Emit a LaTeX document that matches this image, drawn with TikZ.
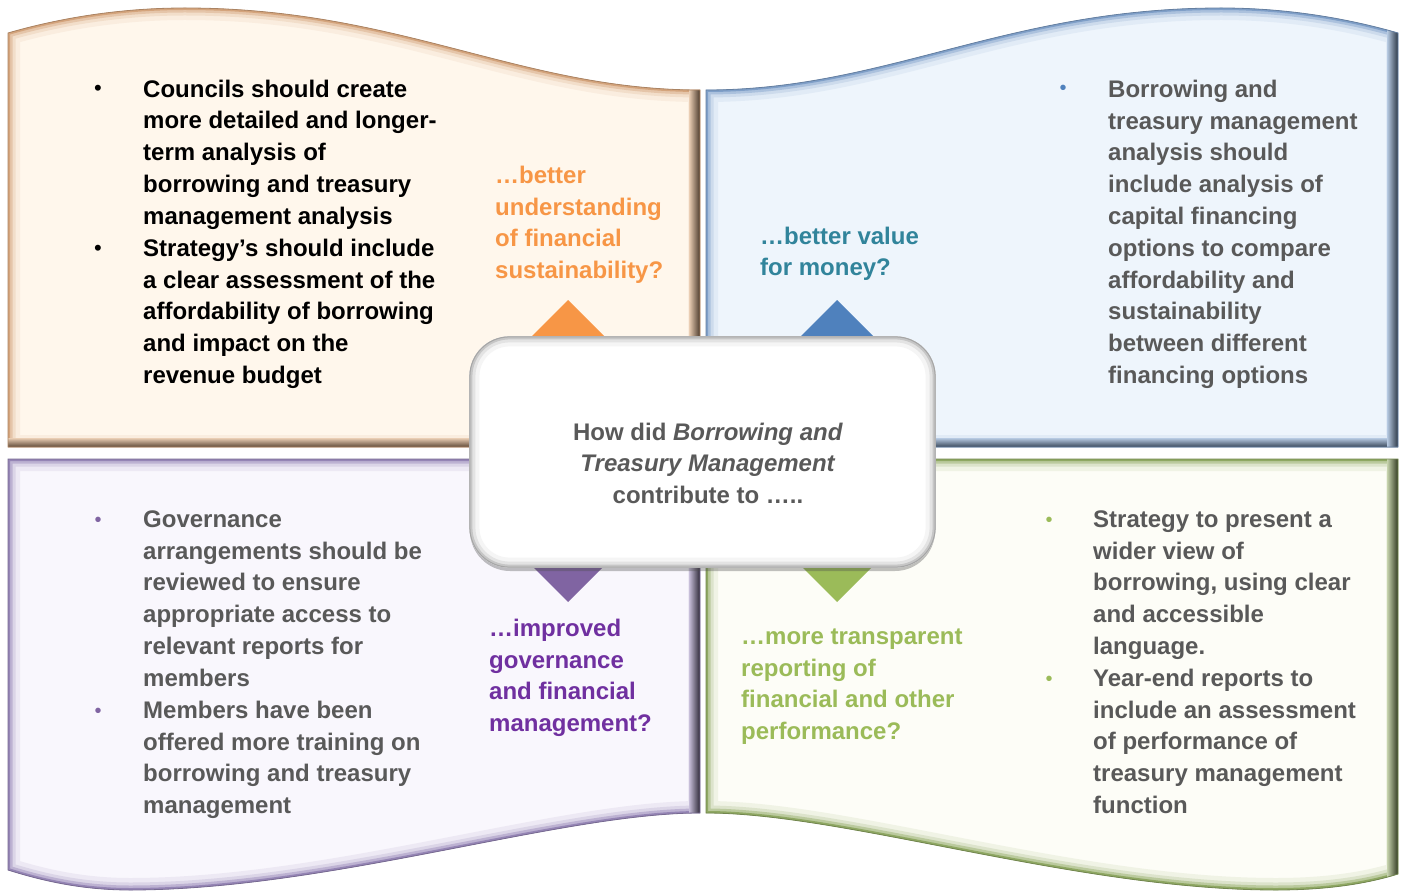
\documentclass[tikz,border=0pt]{standalone}
\usepackage{fontspec}
\setmainfont{Liberation Sans}
\usetikzlibrary{shadows}

% panel colours
\definecolor{tlfill}{HTML}{FFF7EC}
\definecolor{tlrim}{HTML}{D4A47C}
\definecolor{trfill}{HTML}{EEF5FC}
\definecolor{trrim}{HTML}{7F9FC8}
\definecolor{blfill}{HTML}{F9F7FD}
\definecolor{blrim}{HTML}{9585B5}
\definecolor{brfill}{HTML}{FDFDF7}
\definecolor{brrim}{HTML}{8FA863}
% accent colours
\definecolor{accorange}{HTML}{F79646}
\definecolor{accblue}{HTML}{4F81BD}
\definecolor{accpurple}{HTML}{8064A2}
\definecolor{accgreen}{HTML}{9BBB59}
\definecolor{lblteal}{HTML}{31849B}
\definecolor{lblpurple}{HTML}{7030A0}
\definecolor{bodygray}{HTML}{595959}

% outlines of the four wavy panels
\newcommand\shapeTL{(8,447) -- (8,33) .. controls (60,18) and (120,8) .. (185,8) .. controls (400,8) and (520,90) .. (700,90) -- (700,447) -- cycle}
\newcommand\shapeTR{(706,447) -- (706,90) .. controls (886,90) and (1006,8) .. (1221,8) .. controls (1286,8) and (1346,18) .. (1398,33) -- (1398,447) -- cycle}
\newcommand\shapeBL{(8,459) -- (700,459) -- (700,813) .. controls (560,813) and (330,890) .. (130,890) .. controls (80,890) and (40,880) .. (8,870) -- cycle}
\newcommand\shapeBR{(706,459) -- (1398,459) -- (1398,874) .. controls (1366,884) and (1326,890) .. (1276,890) .. controls (1076,890) and (846,813) .. (706,813) -- cycle}

% filled panel with a soft bevelled rim inside its outline
\newcommand\bevelpanel[3]{%
  \fill[#2] #1;
  \begin{scope}
    \clip #1;
    \draw[line width=24pt, #3!12!#2] #1;
    \draw[line width=15pt, #3!30!#2] #1;
    \draw[line width=9pt, #3!60!#2] #1;
    \draw[line width=4pt, #3] #1;
  \end{scope}
}

\newcommand\firststrut{\rule{0pt}{24pt}}

\tikzset{
  body/.style={anchor=north west, inner sep=0pt, align=left,
    font={\fontsize{24}{31.8}\selectfont\bfseries}},
  bul/.style={anchor=base, inner sep=0pt, font={\fontsize{20}{20}\selectfont}},
  hubbox/.style={draw=gray!70, line width=1.2pt, fill=white,
    rounded corners=40pt, minimum width=465pt, minimum height=230pt,
    inner sep=0pt,
    drop shadow={shadow xshift=0pt, shadow yshift=-4pt, opacity=0.35, fill=black!70}},
}

\begin{document}
\begin{tikzpicture}[x=1pt,y=-1pt]
\useasboundingbox (0,0) rectangle (1402,893);
\fill[white] (0,0) rectangle (1402,893);

% the four panels
\bevelpanel{\shapeTL}{tlfill}{tlrim}
\bevelpanel{\shapeTR}{trfill}{trrim}
\bevelpanel{\shapeBL}{blfill}{blrim}
\bevelpanel{\shapeBR}{brfill}{brrim}

% shaded lower and right rims
\begin{scope}
  \clip \shapeTL;
  \shade[top color=tlrim!50!tlfill, bottom color=tlrim!45!black] (0,438) rectangle (700,447);
  \shade[left color=tlrim!50!tlfill, right color=tlrim!35!black] (689,0) rectangle (700,447);
\end{scope}
\begin{scope}
  \clip \shapeTR;
  \shade[top color=trrim!50!trfill, bottom color=trrim!45!black] (706,438) rectangle (1398,447);
  \shade[left color=trrim!50!trfill, right color=trrim!35!black] (1387,0) rectangle (1398,447);
\end{scope}
\begin{scope}
  \clip \shapeBL;
  \shade[left color=blrim!50!blfill, right color=blrim!30!black] (689,459) rectangle (700,893);
\end{scope}
\begin{scope}
  \clip \shapeBR;
  \shade[left color=brrim!50!brfill, right color=brrim!35!black] (1387,459) rectangle (1398,893);
\end{scope}
\draw[line width=0.8pt, tlrim!80!black] \shapeTL;
\draw[line width=0.8pt, trrim!80!black] \shapeTR;
\draw[line width=0.8pt, blrim!80!black] \shapeBL;
\draw[line width=0.8pt, brrim!80!black] \shapeBR;

% pointers towards each panel
\fill[accorange] (568,300) -- (620,352) -- (516,352) -- cycle;
\fill[accblue]   (837,300) -- (889,352) -- (785,352) -- cycle;
\fill[accpurple] (568,602) -- (620,550) -- (516,550) -- cycle;
\fill[accgreen]  (837,602) -- (889,550) -- (785,550) -- cycle;

% central question box
\node[hubbox] (hub) at (702.5,452) {};
\begin{scope}
  \clip[rounded corners=40pt] (hub.south west) rectangle (hub.north east);
  \draw[rounded corners=40pt, line width=20pt, gray!8]  (hub.south west) rectangle (hub.north east);
  \draw[rounded corners=40pt, line width=12pt, gray!22] (hub.south west) rectangle (hub.north east);
  \draw[rounded corners=40pt, line width=6pt, gray!45]  (hub.south west) rectangle (hub.north east);
  \draw[rounded corners=40pt, line width=2pt, gray!70]  (hub.south west) rectangle (hub.north east);
\end{scope}
\node[anchor=north, inner sep=0pt, align=center, text=bodygray,
  font={\fontsize{24}{31.6}\selectfont\bfseries}] (hubtext) at (708,416)
  {\firststrut How did \textit{Borrowing and}\\\textit{Treasury Management}\\contribute to …..};

% top left panel
\node[bul, font={\fontsize{22}{22}\selectfont}, text=black] (tlb1) at (98,96) {•};
\node[body, text=black] (tl1) at (143,73)
  {\firststrut Councils should create\\more detailed and longer-\\term analysis of\\borrowing and treasury\\management analysis};
\node[bul, font={\fontsize{22}{22}\selectfont}, text=black] (tlb2) at (98,255) {•};
\node[body, text=black] (tl2) at (143,232)
  {\firststrut Strategy’s should include\\a clear assessment of the\\affordability of borrowing\\and impact on the\\revenue budget};
\node[body, text=accorange] (tllabel) at (495,159)
  {\firststrut …better\\understanding\\of financial\\sustainability?};

% top right panel
\node[bul, text=accblue] (trb1) at (1063,95) {•};
\node[body, text=bodygray] (tr1) at (1108,73)
  {\firststrut Borrowing and\\treasury management\\analysis should\\include analysis of\\capital financing\\options to compare\\affordability and\\sustainability\\between different\\financing options};
\node[body, text=lblteal] (trlabel) at (760,220)
  {\firststrut …better value\\for money?};

% bottom left panel
\node[bul, text=accpurple] (blb1) at (98,526) {•};
\node[body, text=bodygray] (bl1) at (143,503)
  {\firststrut Governance\\arrangements should be\\reviewed to ensure\\appropriate access to\\relevant reports for\\members};
\node[bul, text=accpurple] (blb2) at (98,717) {•};
\node[body, text=bodygray] (bl2) at (143,694)
  {\firststrut Members have been\\offered more training on\\borrowing and treasury\\management};
\node[body, text=lblpurple] (bllabel) at (489,612)
  {\firststrut …improved\\governance\\and financial\\management?};

% bottom right panel
\node[bul, text=accgreen] (brb1) at (1049,526) {•};
\node[body, text=bodygray] (br1) at (1093,503)
  {\firststrut Strategy to present a\\wider view of\\borrowing, using clear\\and accessible\\language.};
\node[bul, text=accgreen] (brb2) at (1049,685) {•};
\node[body, text=bodygray] (br2) at (1093,662)
  {\firststrut Year-end reports to\\include an assessment\\of performance of\\treasury management\\function};
\node[body, text=accgreen] (brlabel) at (741,620)
  {\firststrut …more transparent\\reporting of\\financial and other\\performance?};
\end{tikzpicture}
\end{document}
